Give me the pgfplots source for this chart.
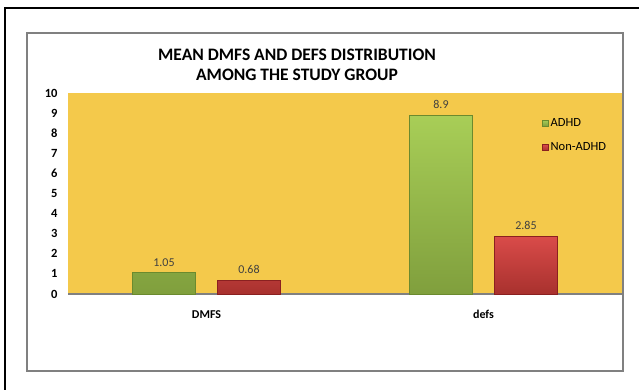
\documentclass[border=0pt]{standalone}
\usepackage{pgfplots}
\pgfplotsset{compat=1.18}
\usepackage{fontspec}
\setmainfont{Carlito}
\definecolor{bgyellow}{HTML}{F4C94B}
\definecolor{gtop}{HTML}{A8CE57}
\definecolor{gbot}{HTML}{809F3D}
\definecolor{gedge}{HTML}{6B8A2E}
\definecolor{rtop}{HTML}{D94B49}
\definecolor{rbot}{HTML}{A8312E}
\definecolor{redge}{HTML}{8A2020}
\definecolor{framegray}{HTML}{808080}
\begin{document}
\begin{tikzpicture}[x=1pt,y=1pt]
\useasboundingbox (0,0) rectangle (639,-390);
\fill[white] (0,0) rectangle (639,-390);
\begin{axis}[
  at={(68pt,-294pt)}, anchor=south west,
  scale only axis, width=554pt, height=201pt,
  xmin=-0.5, xmax=1.5, ymin=0, ymax=10,
  ybar=22pt, bar width=63pt,
  axis background/.style={fill=bgyellow},
  axis x line=bottom, axis y line=left,
  x axis line style={draw=framegray, line width=1.5pt, -},
  y axis line style={draw=none},
  major tick length=0pt,
  xtick={0,1}, xticklabels={DMFS,defs},
  ytick={0,1,...,10},
  /pgf/number format/assume math mode=true,
  yticklabel style={font=\bfseries\fontsize{12.5}{13}\selectfont, anchor=east, xshift=-7pt},
  xticklabel style={font=\bfseries\fontsize{12}{13}\selectfont, yshift=-13pt},
  nodes near coords,
  nodes near coords style={font=\fontsize{12}{13}\selectfont, text=black!75, yshift=3pt},
  legend cell align=left,
  legend style={at={(0.855,0.885)}, anchor=north west, draw=none, fill=none,
    font=\fontsize{12.5}{13}\selectfont, row sep=11pt, inner sep=0pt,
    /tikz/every even column/.append style={column sep=3pt}},
  legend image code/.code={\draw[#1] (0pt,-3pt) rectangle (6pt,3pt);},
  clip=false,
]
\addplot[draw=gedge, line width=0.8pt, top color=gtop, bottom color=gbot] coordinates {(0,1.05) (1,8.9)};
\addplot[draw=redge, line width=0.8pt, top color=rtop, bottom color=rbot] coordinates {(0,0.68) (1,2.85)};
\legend{ADHD,Non-ADHD}
\end{axis}
\draw[framegray, line width=1.5pt] (27,-33) rectangle (623,-371);
\draw[black, line width=1.2pt] (5,-390) -- (5,-8) -- (639,-8);
\node[font=\bfseries\fontsize{17.5}{20}\selectfont, align=center] at (297,-65) {MEAN DMFS AND DEFS DISTRIBUTION\\AMONG THE STUDY GROUP};
\end{tikzpicture}
\end{document}
